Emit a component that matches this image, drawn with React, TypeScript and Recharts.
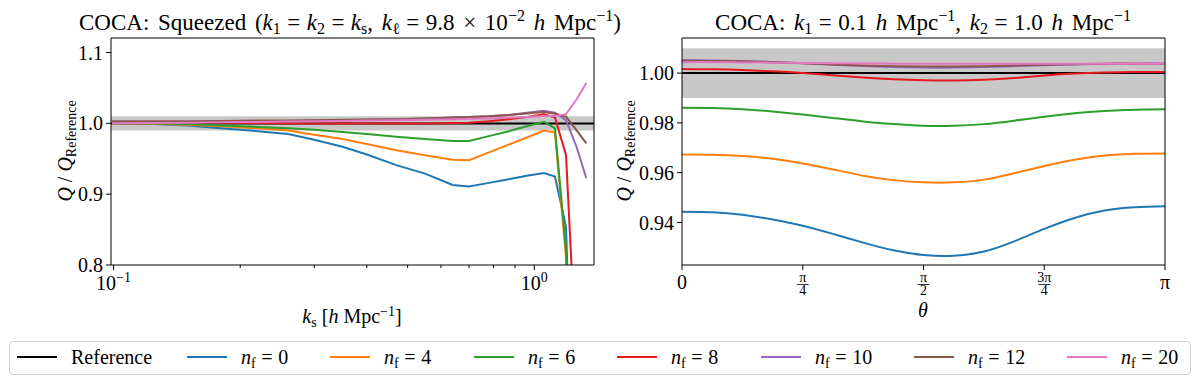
import React from 'react';
import {
  LineChart, Line, XAxis, YAxis, ReferenceArea, ReferenceLine,
} from 'recharts';

const FONT = "'Liberation Serif', 'DejaVu Serif', serif";

// left panel: squeezed configuration, ratio vs k_s
const K_S = [0.099, 0.12, 0.15, 0.18, 0.22, 0.26, 0.3, 0.35, 0.4, 0.47, 0.55, 0.64, 0.7, 0.78, 0.87, 0.96, 1.055, 1.12, 1.19, 1.26, 1.33];
const SQ_NF0 = [1.0, 0.9995, 0.997, 0.993, 0.989, 0.985, 0.977, 0.967, 0.956, 0.941, 0.929, 0.913, 0.911, 0.916, 0.921, 0.926, 0.93, 0.925, 0.854, 0.4, 0.2];
const SQ_NF4 = [1.0, 0.9995, 0.998, 0.996, 0.993, 0.99, 0.984, 0.978, 0.971, 0.962, 0.955, 0.9485, 0.948, 0.959, 0.97, 0.98, 0.99, 0.987, 0.81, 0.3, 0.1];
const SQ_NF6 = [1.0, 1.0, 0.999, 0.997, 0.995, 0.993, 0.991, 0.988, 0.985, 0.981, 0.978, 0.975, 0.975, 0.982, 0.989, 0.996, 1.0023, 0.993, 0.821, 0.3, 0.1];
const SQ_NF8 = [1.002, 1.002, 1.0015, 1.001, 1.0005, 1.0, 1.0, 1.0, 1.0, 1.0, 1.0, 1.0005, 1.001, 1.003, 1.006, 1.009, 1.013, 1.0085, 0.955, 0.66, 0.4];
const SQ_NF10 = [1.001, 1.0015, 1.002, 1.0025, 1.003, 1.0035, 1.004, 1.0045, 1.005, 1.006, 1.007, 1.0085, 1.009, 1.01, 1.012, 1.015, 1.0178, 1.015, 1.0047, 0.967, 0.9225];
const SQ_NF12 = [1.003, 1.003, 1.003, 1.0035, 1.004, 1.004, 1.0045, 1.005, 1.0055, 1.006, 1.007, 1.008, 1.009, 1.01, 1.012, 1.014, 1.016, 1.0137, 1.0094, 0.9906, 0.9718];
const SQ_NF20 = [1.0, 1.0005, 1.001, 1.0015, 1.002, 1.0025, 1.003, 1.0035, 1.004, 1.0045, 1.005, 1.006, 1.0065, 1.007, 1.008, 1.009, 1.0103, 1.0103, 1.0131, 1.0338, 1.0572];

// right panel: ratio vs theta (in units of pi)
const THETA = [0, 0.0625, 0.125, 0.1875, 0.25, 0.3125, 0.375, 0.4375, 0.5, 0.5625, 0.625, 0.6875, 0.75, 0.8125, 0.875, 0.9375, 1];
const TH_NF0 = [0.9443, 0.9441, 0.9431, 0.9412, 0.9387, 0.9354, 0.9319, 0.9288, 0.9269, 0.9266, 0.9283, 0.9324, 0.9374, 0.9418, 0.9448, 0.9461, 0.9465];
const TH_NF4 = [0.9673, 0.9672, 0.9667, 0.9656, 0.9637, 0.9613, 0.9588, 0.9570, 0.9561, 0.9561, 0.9572, 0.9598, 0.9627, 0.9652, 0.9669, 0.9676, 0.9677];
const TH_NF6 = [0.9861, 0.986, 0.9855, 0.9846, 0.9834, 0.9820, 0.9806, 0.9795, 0.9788, 0.9788, 0.9795, 0.9809, 0.9825, 0.9839, 0.9848, 0.9853, 0.9855];
const TH_NF8 = [1.0016, 1.0015, 1.0012, 1.0007, 1.0, 0.9991, 0.9982, 0.9975, 0.9971, 0.997, 0.9973, 0.998, 0.9990, 0.9998, 1.0002, 1.0004, 1.0004];
const TH_NF10 = [1.0052, 1.0051, 1.0049, 1.0045, 1.004, 1.0034, 1.0028, 1.0024, 1.0022, 1.0022, 1.0024, 1.0028, 1.0032, 1.0035, 1.0037, 1.0038, 1.0038];
const TH_NF12 = [1.005, 1.0049, 1.0047, 1.0044, 1.004, 1.0035, 1.0031, 1.0028, 1.0027, 1.0027, 1.0028, 1.0031, 1.0034, 1.0036, 1.0038, 1.0038, 1.0038];
const TH_NF20 = [1.0044, 1.0044, 1.0043, 1.0042, 1.0041, 1.004, 1.0039, 1.0038, 1.0038, 1.0038, 1.0038, 1.0038, 1.0038, 1.0038, 1.0038, 1.0038, 1.0038];

// ticks
const LOG_TICKS = [0.1, 0.2, 0.3, 0.4, 0.5, 0.6, 0.7, 0.8, 0.9, 1.0];
const SQ_Y_TICKS = [0.8, 0.9, 1.0, 1.1];
const TH_TICKS = [0, 0.25, 0.5, 0.75, 1];
const TH_TICK_LABELS = [['0'], ['π', '4'], ['π', '2'], ['3π', '4'], ['π']];
const TH_Y_TICKS = [0.94, 0.96, 0.98, 1.0];

const N_F = ['0', '4', '6', '8', '10', '12', '20'];
const KEYS = ['nf0', 'nf4', 'nf6', 'nf8', 'nf10', 'nf12', 'nf20'];
const COLORS = ['#1f77b4', '#ff7f0e', '#2ca02c', '#e41a1c', '#9467bd', '#8c564b', '#e377c2'];
const LEGEND_LEFT = [17, 187, 330, 474, 617, 761, 914, 1067];

const sqData = K_S.map((k, i) => ({
  k, nf0: SQ_NF0[i], nf4: SQ_NF4[i], nf6: SQ_NF6[i], nf8: SQ_NF8[i],
  nf10: SQ_NF10[i], nf12: SQ_NF12[i], nf20: SQ_NF20[i],
}));
const thData = THETA.map((t, i) => ({
  t, nf0: TH_NF0[i], nf4: TH_NF4[i], nf6: TH_NF6[i], nf8: TH_NF8[i],
  nf10: TH_NF10[i], nf12: TH_NF12[i], nf20: TH_NF20[i],
}));

const Sub = ({ children }: { children: React.ReactNode }) => (
  <span style={{ fontSize: '0.7em', verticalAlign: '-0.25em', lineHeight: 0 }}>{children}</span>
);
const Sup = ({ children }: { children: React.ReactNode }) => (
  <span style={{ fontSize: '0.7em', verticalAlign: '0.5em', lineHeight: 0 }}>{children}</span>
);
// "=" with math-style spacing
const Eq = () => <span style={{ margin: '0 0.28em' }}>=</span>;

const LogTick = (props: any) => {
  const { x, y, payload } = props;
  const v = payload.value;
  const major = Math.abs(v - 0.1) < 1e-6 || Math.abs(v - 1) < 1e-6;
  return (
    <g>
      <line x1={x} x2={x} y1={y} y2={y + (major ? 5 : 3)} stroke="#000" strokeWidth={1} />
      {major && (
        <text x={x} y={y + 25} textAnchor="middle" fontSize={20} fill="#000" fontFamily={FONT}>
          10<tspan dy={-8} fontSize={14}>{v < 0.5 ? '−1' : '0'}</tspan>
        </text>
      )}
    </g>
  );
};

const PiTick = (props: any) => {
  const { x, y, payload } = props;
  const idx = TH_TICKS.indexOf(payload.value);
  const lab = TH_TICK_LABELS[idx] || [''];
  return (
    <g fontFamily={FONT} fill="#000">
      <line x1={x} x2={x} y1={y} y2={y + 5} stroke="#000" strokeWidth={1} />
      {lab.length === 1 ? (
        <text x={x} y={y + 24} textAnchor="middle" fontSize={20}>{lab[0]}</text>
      ) : (
        <g>
          <text x={x} y={y + 17} textAnchor="middle" fontSize={14}>{lab[0]}</text>
          <line x1={x - 6} x2={x + 6} y1={y + 19.5} y2={y + 19.5} stroke="#000" strokeWidth={0.8} />
          <text x={x} y={y + 30} textAnchor="middle" fontSize={14}>{lab[1]}</text>
        </g>
      )}
    </g>
  );
};

const yTickStyle = { fill: '#000', fontSize: 20, fontFamily: FONT };

const absText = (left: number, top: number, size = 20, rotate = false): React.CSSProperties => ({
  position: 'absolute', left, top, whiteSpace: 'nowrap', fontSize: size, lineHeight: `${size}px`,
  transform: `translate(-50%, -50%)${rotate ? ' rotate(-90deg)' : ''}`,
});
const titleStyle = (left: number): React.CSSProperties => ({ ...absText(left, 22, 23), wordSpacing: 3 });

const QLabel = () => (
  <span><i>Q</i> / <i>Q</i><Sub>Reference</Sub></span>
);

const App: React.FC = () => {
  return (
    <div style={{ position: 'absolute', left: 0, top: 0, width: 1200, height: 384, background: '#fff', fontFamily: FONT, color: '#000' }}>
      {/* left panel */}
      <div style={{ position: 'absolute', left: 0, top: 0 }}>
        <LineChart width={600} height={330} data={sqData} margin={{ top: 37, right: 5, bottom: 35, left: 61 }}>
          <XAxis dataKey="k" type="number" scale="log" domain={[0.0986, 1.387]} allowDataOverflow
            ticks={LOG_TICKS} tick={<LogTick />} tickSize={0} tickMargin={0} height={30}
            axisLine={{ stroke: '#000' }} tickLine={false} interval={0} />
          <XAxis xAxisId="top" dataKey="k" type="number" scale="log" domain={[0.0986, 1.387]} allowDataOverflow
            orientation="top" height={1} tick={false} tickLine={false} axisLine={{ stroke: '#000' }} />
          <YAxis type="number" domain={[0.8, 1.1206]} allowDataOverflow ticks={SQ_Y_TICKS} width={50}
            tickFormatter={(v: number) => v.toFixed(1)} tick={yTickStyle} tickSize={5} tickMargin={3}
            axisLine={{ stroke: '#000' }} tickLine={{ stroke: '#000' }} interval={0} />
          <YAxis yAxisId="right" orientation="right" type="number" domain={[0.8, 1.1206]} width={1}
            tick={false} tickLine={false} axisLine={{ stroke: '#000' }} />
          <ReferenceArea y1={0.99} y2={1.01} fill="#c8c8c8" fillOpacity={1} stroke="none" />
          <ReferenceLine y={1} stroke="#000" strokeWidth={2} />
          {KEYS.map((key, i) => (
            <Line key={key} dataKey={key} type="linear" stroke={COLORS[i]} strokeWidth={2}
              dot={false} isAnimationActive={false} />
          ))}
        </LineChart>
      </div>

      {/* right panel */}
      <div style={{ position: 'absolute', left: 600, top: 0 }}>
        <LineChart width={600} height={330} data={thData} margin={{ top: 37, right: 34, bottom: 35, left: 32 }}>
          <XAxis dataKey="t" type="number" domain={[0, 1]} ticks={TH_TICKS} tick={<PiTick />}
            tickSize={0} tickMargin={0} height={30} axisLine={{ stroke: '#000' }} tickLine={false} interval={0} />
          <XAxis xAxisId="top" dataKey="t" type="number" domain={[0, 1]} orientation="top" height={1}
            tick={false} tickLine={false} axisLine={{ stroke: '#000' }} />
          <YAxis type="number" domain={[0.9229, 1.0141]} allowDataOverflow ticks={TH_Y_TICKS} width={50}
            tickFormatter={(v: number) => v.toFixed(2)} tick={yTickStyle} tickSize={5} tickMargin={3}
            axisLine={{ stroke: '#000' }} tickLine={{ stroke: '#000' }} interval={0} />
          <YAxis yAxisId="right" orientation="right" type="number" domain={[0.9229, 1.0141]} width={1}
            tick={false} tickLine={false} axisLine={{ stroke: '#000' }} />
          <ReferenceArea y1={0.99} y2={1.01} fill="#c8c8c8" fillOpacity={1} stroke="none" />
          <ReferenceLine y={1} stroke="#000" strokeWidth={2} />
          {KEYS.map((key, i) => (
            <Line key={key} dataKey={key} type="natural" stroke={COLORS[i]} strokeWidth={2}
              dot={false} isAnimationActive={false} />
          ))}
        </LineChart>
      </div>

      {/* titles and axis labels */}
      <div style={titleStyle(350)}>
        COCA: Squeezed (<i>k</i><Sub>1</Sub><Eq /><i>k</i><Sub>2</Sub><Eq /><i>k</i><Sub>s</Sub>, <i>k</i><Sub>ℓ</Sub><Eq />9.8 × 10<Sup>−2</Sup> <i>h</i> Mpc<Sup>−1</Sup>)
      </div>
      <div style={titleStyle(923)}>
        COCA: <i>k</i><Sub>1</Sub><Eq />0.1 <i>h</i> Mpc<Sup>−1</Sup>, <i>k</i><Sub>2</Sub><Eq />1.0 <i>h</i> Mpc<Sup>−1</Sup>
      </div>
      <div style={absText(65, 151, 20, true)}><QLabel /></div>
      <div style={absText(624, 151, 20, true)}><QLabel /></div>
      <div style={absText(352, 316)}>
        <i>k</i><Sub>s</Sub> [<i>h</i> Mpc<Sup>−1</Sup>]
      </div>
      <div style={absText(923, 310)}><i>θ</i></div>

      {/* legend */}
      <div style={{ position: 'absolute', left: 9, top: 341, width: 1180, height: 32, border: '1px solid #d0d0d0', borderRadius: 4 }} />
      {['Reference', ...N_F].map((lab, i) => (
        <div key={lab} style={{ position: 'absolute', left: LEGEND_LEFT[i], top: 347, height: 20, display: 'flex', alignItems: 'center', whiteSpace: 'nowrap', fontSize: 20 }}>
          <span style={{ display: 'inline-block', width: 40, height: 2, background: i === 0 ? '#000' : COLORS[i - 1], marginRight: 14 }} />
          {i === 0 ? <span>Reference</span> : <span><i>n</i><Sub>f</Sub><Eq />{lab}</span>}
        </div>
      ))}
    </div>
  );
};

export default App;
